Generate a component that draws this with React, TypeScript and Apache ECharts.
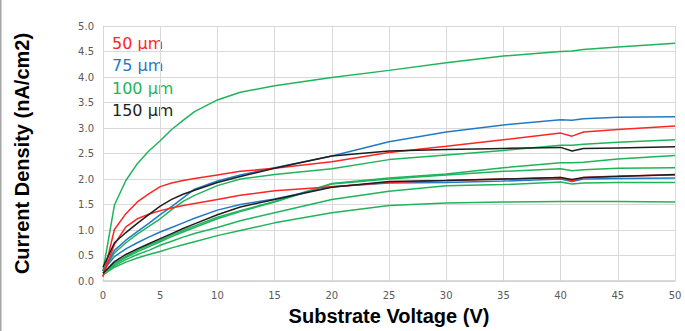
import React, { useEffect, useRef } from "react";
import * as echarts from "echarts";

// Substrate voltage sample points (V)
const voltages = [0, 1, 2, 3, 4, 5, 6, 7, 8, 10, 12, 15, 20, 25, 30, 35, 40, 41, 42, 45, 50];

// 50 µm (red)
const red1 = [0.08, 1.01, 1.32, 1.55, 1.71, 1.85, 1.92, 1.97, 2.01, 2.08, 2.15, 2.21, 2.34, 2.52, 2.64, 2.77, 2.9, 2.84, 2.92, 2.97, 3.04];
const red2 = [0.1, 0.72, 1.06, 1.22, 1.31, 1.38, 1.43, 1.48, 1.52, 1.6, 1.68, 1.77, 1.85, 1.93, 1.97, 2.0, 2.03, 1.96, 2.03, 2.06, 2.08];
// 75 µm (blue)
const blue1 = [0.2, 0.6, 0.8, 0.97, 1.13, 1.3, 1.46, 1.63, 1.8, 1.96, 2.08, 2.22, 2.45, 2.73, 2.92, 3.06, 3.16, 3.15, 3.18, 3.21, 3.22];
const blue2 = [0.2, 0.48, 0.63, 0.75, 0.86, 0.96, 1.05, 1.14, 1.23, 1.39, 1.5, 1.61, 1.85, 1.92, 1.93, 1.96, 2.0, 1.95, 2.0, 2.01, 2.02];
// 100 µm (green)
const green1 = [0.2, 1.49, 1.97, 2.3, 2.55, 2.75, 2.97, 3.15, 3.32, 3.55, 3.7, 3.83, 3.99, 4.13, 4.28, 4.41, 4.5, 4.51, 4.54, 4.59, 4.66];
const green2 = [0.2, 0.55, 0.75, 0.92, 1.07, 1.22, 1.4, 1.56, 1.68, 1.87, 2.0, 2.09, 2.2, 2.38, 2.47, 2.56, 2.66, 2.66, 2.68, 2.72, 2.77];
const green3 = [0.15, 0.35, 0.48, 0.6, 0.7, 0.8, 0.9, 0.99, 1.08, 1.25, 1.38, 1.56, 1.91, 2.02, 2.1, 2.22, 2.32, 2.32, 2.33, 2.39, 2.46];
const green4 = [0.15, 0.33, 0.46, 0.57, 0.67, 0.77, 0.87, 0.96, 1.05, 1.22, 1.36, 1.55, 1.9, 2.0, 2.08, 2.15, 2.2, 2.16, 2.18, 2.21, 2.22];
const green5 = [0.15, 0.3, 0.42, 0.52, 0.6, 0.7, 0.78, 0.86, 0.93, 1.05, 1.18, 1.34, 1.6, 1.76, 1.87, 1.89, 1.94, 1.9, 1.92, 1.93, 1.93];
const green6 = [0.12, 0.27, 0.37, 0.45, 0.52, 0.58, 0.65, 0.71, 0.77, 0.89, 0.99, 1.14, 1.34, 1.48, 1.53, 1.55, 1.56, 1.56, 1.56, 1.56, 1.55];
// 150 µm (black)
const black1 = [0.27, 0.75, 0.95, 1.13, 1.3, 1.47, 1.6, 1.7, 1.78, 1.93, 2.05, 2.21, 2.45, 2.55, 2.58, 2.6, 2.62, 2.55, 2.6, 2.61, 2.63];
const black2 = [0.15, 0.38, 0.52, 0.63, 0.73, 0.83, 0.93, 1.03, 1.12, 1.3, 1.45, 1.6, 1.84, 1.95, 1.97, 2.0, 2.03, 1.99, 2.03, 2.05, 2.09];

const legendLabels = ["50 μm", "75 μm", "100 μm", "150 μm"];

const RED = "#ff2525";
const BLUE = "#2479c6";
const GREEN = "#1fb45a";
const BLACK = "#1e1e1e";

const seriesDefs: { data: number[]; color: string }[] = [
  { data: green6, color: GREEN },
  { data: green5, color: GREEN },
  { data: green4, color: GREEN },
  { data: green3, color: GREEN },
  { data: green2, color: GREEN },
  { data: green1, color: GREEN },
  { data: blue2, color: BLUE },
  { data: blue1, color: BLUE },
  { data: red2, color: RED },
  { data: red1, color: RED },
  { data: black2, color: BLACK },
  { data: black1, color: BLACK },
];

export default function App() {
  const ref = useRef<HTMLDivElement>(null);
  useEffect(() => {
    if (!ref.current) return;
    const chart = echarts.init(ref.current, undefined, { renderer: "svg" });
    const legendColors = [RED, BLUE, GREEN, BLACK];
    chart.setOption({
      animation: false,
      backgroundColor: "#ffffff",
      grid: { left: 103, right: 10, top: 26, bottom: 47 },
      xAxis: {
        type: "value",
        min: 0,
        max: 50,
        interval: 5,
        name: "Substrate Voltage (V)",
        nameLocation: "middle",
        nameGap: 25,
        nameTextStyle: { fontFamily: "Liberation Sans", fontWeight: "bold", fontSize: 20, color: "#000" },
        axisLine: { show: true, lineStyle: { color: "#d0d0d0", width: 1.5 } },
        axisTick: { show: false },
        axisLabel: { color: "#595959", fontFamily: "DejaVu Sans", fontSize: 10, margin: 9 },
        splitLine: { show: true, lineStyle: { color: "#d9d9d9", width: 1 } },
      },
      yAxis: {
        type: "value",
        min: 0,
        max: 5,
        interval: 0.5,
        name: "Current Density (nA/cm2)",
        nameLocation: "middle",
        nameGap: 71,
        nameRotate: 90,
        nameTextStyle: { fontFamily: "Liberation Sans", fontWeight: "bold", fontSize: 20, color: "#000" },
        axisLine: { show: true, lineStyle: { color: "#d9d9d9", width: 1 } },
        axisTick: { show: false },
        axisLabel: {
          color: "#595959",
          fontFamily: "DejaVu Sans",
          fontSize: 10,
          margin: 9,
          formatter: (v: number) => v.toFixed(1),
        },
        splitLine: { show: true, lineStyle: { color: "#d9d9d9", width: 1 } },
      },
      graphic: [
        { type: "rect", left: 0, top: 0, shape: { x: 0, y: 0, width: 1.5, height: 331 }, style: { fill: "#a6a6a6" } },
        ...legendLabels.map((t, i) => ({
          type: "text",
          x: 112,
          y: 43 + i * 22.5,
          style: {
            text: t,
            fill: legendColors[i],
            font: "16px 'DejaVu Sans'",
            textVerticalAlign: "middle",
            verticalAlign: "middle",
          },
        })),
      ],
      series: seriesDefs.map((s) => ({
        type: "line",
        data: voltages.map((v, i) => [v, s.data[i]]),
        showSymbol: false,
        symbol: "none",
        smooth: false,
        lineStyle: { color: s.color, width: 1.5 },
        itemStyle: { color: s.color },
      })),
    });
    return () => chart.dispose();
  }, []);
  return (
    <div
      ref={ref}
      style={{ position: "fixed", left: 0, top: 0, width: 685, height: 331 }}
    />
  );
}
